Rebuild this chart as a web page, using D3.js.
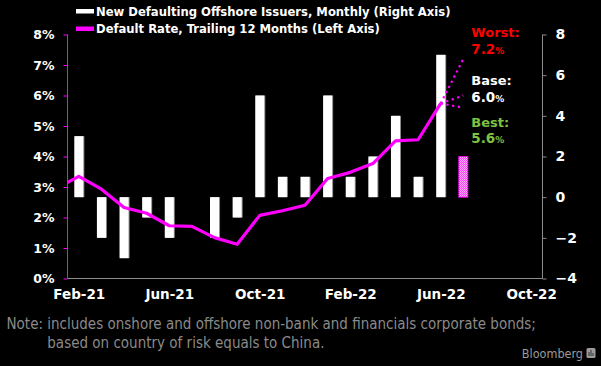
<!DOCTYPE html>
<html><head><meta charset="utf-8">
<script src="https://cdn.jsdelivr.net/npm/d3@7"></script>
<style>html,body{margin:0;padding:0;background:#000;}svg{display:block;}</style>
</head><body>
<script>
// ---- data ----
const barMonths = ["Feb-21","Mar-21","Apr-21","May-21","Jun-21","Jul-21","Aug-21","Sep-21","Oct-21","Nov-21","Dec-21","Jan-22","Feb-22","Mar-22","Apr-22","May-22","Jun-22","Jul-22"];
const barValues = [3,-2,-3,-1,-2,0,-2,-1,5,1,1,5,1,2,4,1,7,2];
const forecastMonth = "Jul-22";
const rateMonths = ["Jan-21","Feb-21","Mar-21","Apr-21","May-21","Jun-21","Jul-21","Aug-21","Sep-21","Oct-21","Nov-21","Dec-21","Jan-22","Feb-22","Mar-22","Apr-22","May-22","Jun-22"];
const rateValues = [2.95,3.35,2.93,2.33,2.14,1.73,1.71,1.34,1.12,2.07,2.22,2.40,3.28,3.48,3.77,4.51,4.55,5.74];
const scenarioNames = ["Worst","Base","Best"];
const scenarioValues = [7.2,6.0,5.6];
const scenarioColors = ["#ff0000","#ffffff","#7dc243"];
const xTickLabels = ["Feb-21","Jun-21","Oct-21","Feb-22","Jun-22","Oct-22"];
const leftTicks = [0,1,2,3,4,5,6,7,8];
const rightTicks = [-4,-2,0,2,4,6,8];
const legendLabels = ["New Defaulting Offshore Issuers, Monthly (Right Axis)","Default Rate, Trailing 12 Months (Left Axis)"];
const noteLines = ["Note: includes onshore and offshore non-bank and financials corporate bonds;","based on country of risk equals to China."];

// ---- setup ----
const W = 601, H = 366;
const parseM = d3.timeParse("%b-%y");
const mIdx = s => { const d = parseM(s); return (d.getFullYear()-2021)*12 + d.getMonth(); };
const L = 67.5, R = 542.5, T = 34.5, B = 278.5;
const x = d3.scaleLinear().domain([mIdx("Jan-21")+0.5, mIdx("Oct-22")+0.5]).range([L, R]);
const yL = d3.scaleLinear().domain([0,8]).range([B, T]);
const yR = d3.scaleLinear().domain([-4,8]).range([B, T]);
const step = x(1)-x(0);
const bw = step*0.4;
const MAG = "#ff00ff";
const boldFont = "'DejaVu Sans', sans-serif";
const condFont = "'DejaVu Sans Condensed', 'DejaVu Sans', sans-serif";

const svg = d3.select("body").append("svg").attr("width", W).attr("height", H);
svg.append("rect").attr("width", W).attr("height", H).attr("fill", "#000");
const defs = svg.append("defs");
const pat = defs.append("pattern").attr("id","hatch").attr("patternUnits","userSpaceOnUse").attr("width",2).attr("height",2);
pat.append("rect").attr("width",2).attr("height",2).attr("fill","#ffb0ff");
pat.append("rect").attr("width",1).attr("height",1).attr("fill","#ff40ff");
pat.append("rect").attr("x",1).attr("y",1).attr("width",1).attr("height",1).attr("fill","#ff40ff");
defs.append("clipPath").attr("id","plotclip").append("rect").attr("x",L).attr("y",0).attr("width",R-L).attr("height",H);

// bars
const barData = barMonths.map((m,i)=>({m, v:barValues[i]})).filter(d=>d.v!==0);
const bars = svg.append("g");
bars.selectAll("rect.sh").data(barData.filter(d=>d.m!==forecastMonth)).join("rect")
  .attr("x", d=>x(mIdx(d.m))-bw/2+1).attr("y", d=>Math.min(yR(d.v),yR(0)))
  .attr("width", bw).attr("height", d=>Math.abs(yR(d.v)-yR(0))).attr("fill","#8a8a8a");
bars.selectAll("rect.b").data(barData).join("rect")
  .attr("x", d=>x(mIdx(d.m))-bw/2).attr("y", d=>Math.min(yR(d.v),yR(0)))
  .attr("width", bw).attr("height", d=>Math.abs(yR(d.v)-yR(0)))
  .attr("fill", d=>d.m===forecastMonth ? "url(#hatch)" : "#ffffff")
  .attr("stroke", d=>d.m===forecastMonth ? MAG : "none").attr("stroke-width",0.8);

// axes
const axL = svg.append("g").attr("transform",`translate(${L},0)`)
  .call(d3.axisLeft(yL).tickValues(leftTicks).tickSize(4).tickFormat(d=>d+"%"));
axL.select(".domain").attr("stroke",MAG).attr("d",`M0,${T}V${B}`);
axL.selectAll(".tick line").attr("stroke",MAG);
axL.selectAll(".tick text").attr("x",-13).attr("fill","#fff").attr("font-family",boldFont).attr("font-weight","bold").attr("font-size",12.5);

const axR = svg.append("g").attr("transform",`translate(${R},0)`)
  .call(d3.axisRight(yR).tickValues(rightTicks).tickSize(4));
axR.select(".domain").attr("stroke","#8c8c8c").attr("d",`M0,${T}V${B}`);
axR.selectAll(".tick line").attr("stroke","#8c8c8c");
axR.selectAll(".tick text").attr("x",13).attr("fill","#fff").attr("font-family",boldFont).attr("font-weight","bold").attr("font-size",14);

const axB = svg.append("g").attr("transform",`translate(0,${B})`)
  .call(d3.axisBottom(x).tickValues(xTickLabels.map(mIdx)).tickSize(0).tickFormat((d,i)=>xTickLabels[i]));
axB.select(".domain").attr("stroke","#8c8c8c").attr("d",`M${L},0H${R}`);
axB.selectAll(".tick text").attr("y",11).attr("dy","0.71em").attr("fill","#fff").attr("font-family",boldFont).attr("font-weight","bold").attr("font-size",13.5);
svg.selectAll(".domain").attr("stroke-width",1);

// rate line
const line = d3.line().x(d=>x(mIdx(d.m))).y(d=>yL(d.v));
const rateData = rateMonths.map((m,i)=>({m, v:rateValues[i]}));
svg.append("path").datum(rateData).attr("clip-path","url(#plotclip)")
  .attr("d", line).attr("fill","none").attr("stroke",MAG).attr("stroke-width",3.2).attr("stroke-linejoin","round");

// scenario dotted lines
const lastRate = rateData[rateData.length-1];
scenarioNames.forEach((n,i)=>{
  svg.append("path").datum([lastRate,{m:forecastMonth, v:scenarioValues[i]}])
    .attr("d", line).attr("fill","none").attr("stroke",MAG).attr("stroke-width",2.2).attr("stroke-dasharray","2.2,3.6");
});

// scenario annotations
const annX = x(mIdx(forecastMonth)) + 8;
const annY = [37, 85, 126.5];
scenarioNames.forEach((n,i)=>{
  const g = svg.append("g").attr("fill",scenarioColors[i]).attr("font-family",boldFont).attr("font-weight","bold");
  g.append("text").attr("x",annX).attr("y",annY[i]).attr("font-size",13).text(n+":");
  const t = g.append("text").attr("x",annX).attr("y",annY[i]+16.5).attr("font-size",13.5);
  t.append("tspan").text(scenarioValues[i].toFixed(1));
  t.append("tspan").attr("font-size",9).text("%");
});

// legend
const lg = svg.append("g").attr("font-family",condFont).attr("font-weight","bold").attr("font-size",12.9).attr("fill","#fff");
lg.append("rect").attr("x",76).attr("y",9).attr("width",18).attr("height",4.5).attr("fill","#fff");
lg.append("text").attr("x",96).attr("y",15.6).text(legendLabels[0]);
lg.append("rect").attr("x",76).attr("y",26.5).attr("width",18).attr("height",4.5).attr("fill",MAG);
lg.append("text").attr("x",96).attr("y",33.4).text(legendLabels[1]);

// note
const ng = svg.append("g").attr("font-family",condFont).attr("font-size",15).attr("fill","#8a8a8a");
ng.append("text").attr("x",6.5).attr("y",329).text(noteLines[0]);
ng.append("text").attr("x",47.3).attr("y",347.7).text(noteLines[1]);

// Bloomberg mark
svg.append("text").attr("x",583).attr("y",358).attr("text-anchor","end").attr("font-family",condFont).attr("font-size",12.5).attr("fill","#9a9a9a").text("Bloomberg");
svg.append("rect").attr("x",586.5).attr("y",348).attr("width",9).attr("height",10).attr("rx",1.5).attr("fill","#9a9a9a");
svg.append("path").attr("d","M589,356V352M591,356V350M593,356V353").attr("stroke","#333").attr("stroke-width",1);
</script>
</body></html>
